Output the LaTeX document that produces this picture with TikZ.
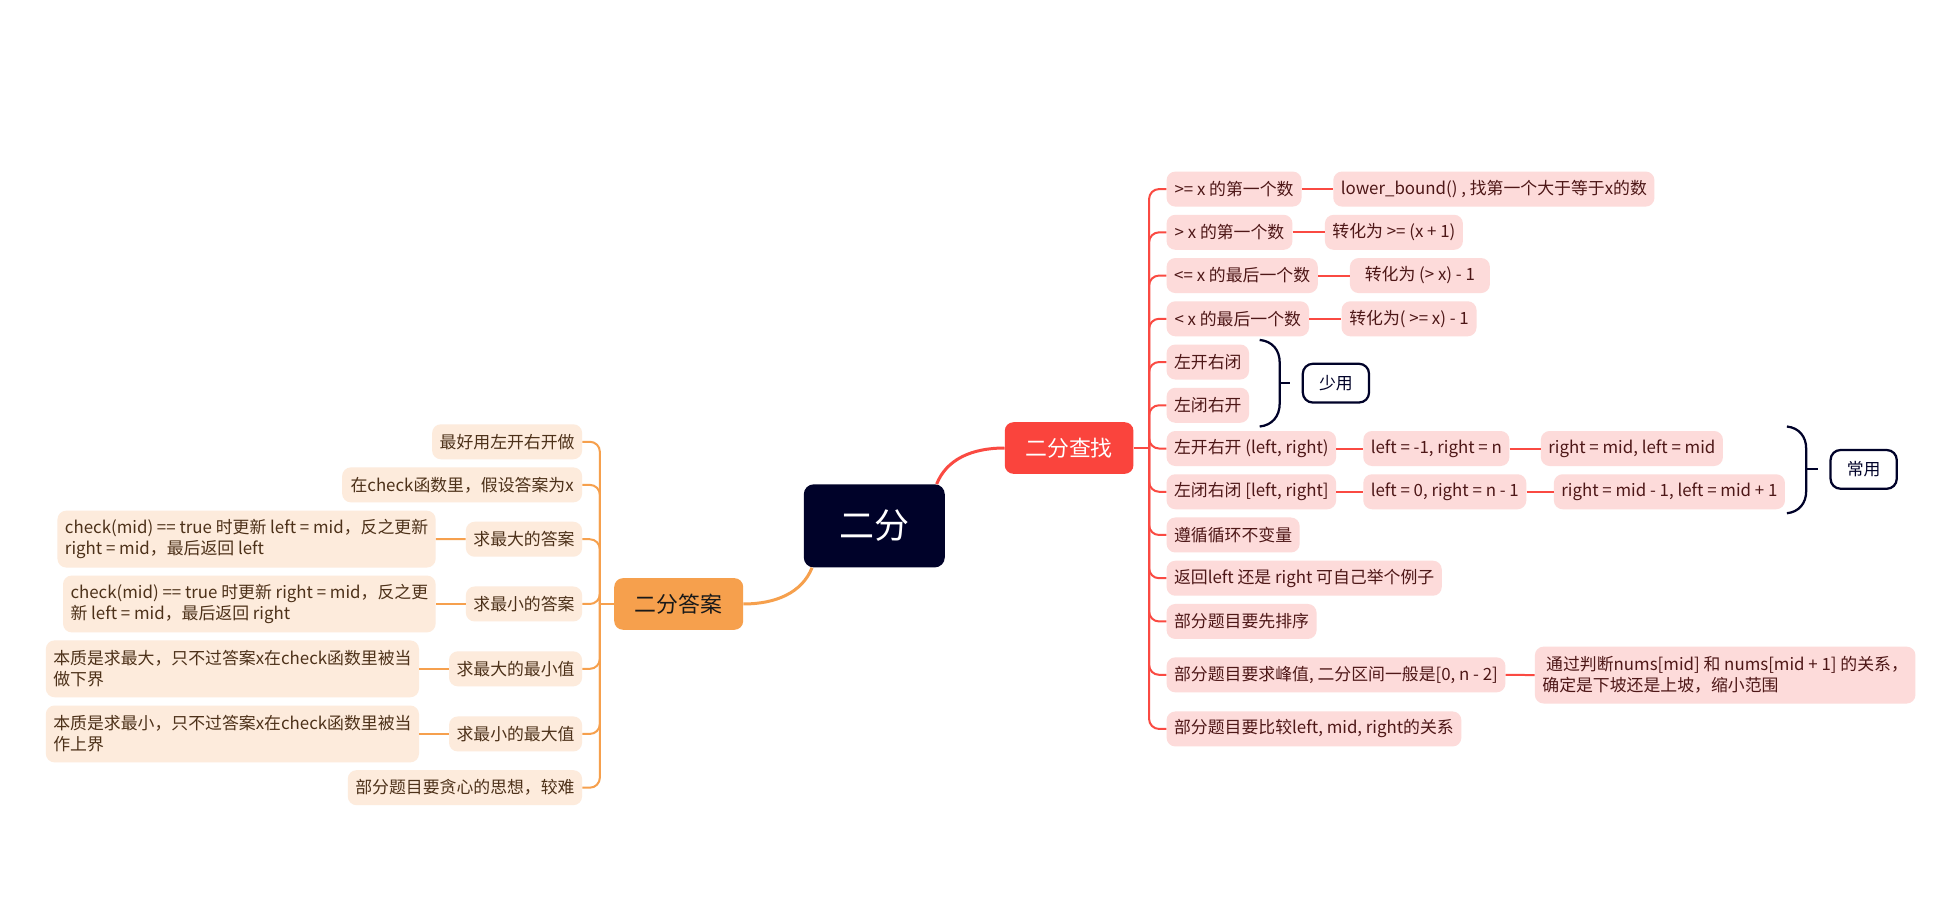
\documentclass[tikz,border=0pt]{standalone}
\usepackage{fontspec}
\setmainfont{Noto Sans CJK SC}
\usetikzlibrary{calc}
\definecolor{navy}{HTML}{000229}
\definecolor{cRedMain}{HTML}{FA443D}
\definecolor{cRedLine}{HTML}{FA4A42}
\definecolor{cRedFill}{HTML}{FDDBDA}
\definecolor{cRedText}{HTML}{4E1717}
\definecolor{cOrMain}{HTML}{F6A04D}
\definecolor{cOrLine}{HTML}{F6A04D}
\definecolor{cOrFill}{HTML}{FDEBDC}
\definecolor{cOrText}{HTML}{4D3119}
\tikzset{
  basebox/.style={rounded corners=7pt, inner xsep=6pt, inner ysep=2pt, minimum height=28pt,
    font=\fontsize{13.5}{16.8}\selectfont},
  rnode/.style={basebox, fill=cRedFill, text=cRedText, anchor=west},
  onode/.style={basebox, fill=cOrFill, text=cOrText, anchor=east},
  twoline/.style={minimum height=45.5pt, align=left},
  rl/.style={draw=cRedLine, line width=1.6pt},
  ol/.style={draw=cOrLine, line width=1.6pt},
  mainred/.style={draw=cRedLine, line width=2.4pt},
  mainor/.style={draw=cOrLine, line width=2.4pt},
  notebox/.style={basebox, fill=white, draw=navy, line width=1.8pt, text=navy, rounded corners=8pt,
    minimum width=53pt, minimum height=31pt},
  bracepath/.style={draw=navy, line width=1.8pt},
}
\begin{document}
\begin{tikzpicture}[x=1pt,y=-1pt]
\useasboundingbox (0,0) rectangle (1567.6,727.4);
\fill[white] (0,0) rectangle (1567.6,727.4);

% root and main branches
\node[fill=navy, text=white, rounded corners=8pt, minimum width=112.8pt, minimum height=66.5pt,
  font=\fontsize{28}{34}\selectfont] (root) at (699.6,420.8) {二分};
\node[fill=cRedMain, text=white, rounded corners=7pt, minimum width=103pt, minimum height=41.3pt,
  font=\fontsize{17.5}{21}\selectfont] (cha) at (855.5,358.5) {二分查找};
\node[fill=cOrMain, text=black!90, rounded corners=7pt, minimum width=103.2pt, minimum height=41.3pt,
  font=\fontsize{17.5}{21}\selectfont] (ans) at (543.1,483.3) {二分答案};

\draw[mainred] ($(root.north east)+(-6.7,0)$) .. controls +(8,-20) and +(-26,0) .. (cha.west);
\draw[mainor] ($(root.south west)+(6.8,0)$) .. controls +(-8,20) and +(26,0) .. (ans.east);

% red branch children
\node[rnode, minimum width=108pt] (r1) at (933.3,151.3) {>= x 的第一个数};
\node[rnode, minimum width=100.7pt] (r2) at (933.3,185.9) {> x 的第一个数};
\node[rnode, minimum width=121pt] (r3) at (933.3,220.5) {<= x 的最后一个数};
\node[rnode, minimum width=114pt] (r4) at (933.3,255.1) {< x 的最后一个数};
\node[rnode, minimum width=64pt] (r5) at (933.3,289.7) {左开右闭};
\node[rnode, minimum width=64pt] (r6) at (933.3,324.3) {左闭右开};
\node[rnode, minimum width=132pt] (r7) at (933.3,358.9) {左开右开 (left, right)};
\node[rnode, minimum width=132pt] (r8) at (933.3,393.5) {左闭右闭 [left, right]};
\node[rnode] (r9) at (933.3,428.1) {遵循循环不变量};
\node[rnode, minimum width=218pt] (r10) at (933.3,462.7) {返回left 还是 right 可自己举个例子};
\node[rnode, minimum width=118pt] (r11) at (933.3,497.3) {部分题目要先排序};
\node[rnode, minimum width=268.7pt] (r12) at (933.3,540) {部分题目要求峰值, 二分区间一般是[0, n - 2]};
\node[rnode, minimum width=228pt] (r13) at (933.3,583.3) {部分题目要比较left, mid, right的关系};

% red grandchildren
\node[rnode, minimum width=247pt] (r1a) at (1066.7,151.3) {lower\_bound() , 找第一个大于等于x的数};
\node[rnode, minimum width=110pt] (r2a) at (1060,185.9) {转化为 >= (x + 1)};
\node[rnode, minimum width=112pt] (r3a) at (1080,220.5) {转化为 (> x) - 1};
\node[rnode, minimum width=108pt] (r4a) at (1073.3,255.1) {转化为( >= x) - 1};
\node[rnode, minimum width=116.5pt] (r7a) at (1090.7,358.9) {left = -1, right = n};
\node[rnode, minimum width=138.4pt] (r7b) at (1232.8,358.9) {right = mid, left = mid};
\node[rnode, minimum width=127.2pt] (r8a) at (1090.7,393.5) {left = 0, right = n - 1};
\node[rnode, minimum width=177pt] (r8b) at (1243.2,393.5) {right = mid - 1, left = mid + 1};
\node[rnode, twoline, minimum width=290pt] (r12a) at (1228,540.2)
  {~通过判断nums[mid] 和 nums[mid + 1] 的关系，\\确定是下坡还是上坡，缩小范围};

% red trunk
\coordinate (jr) at (919.5,358.5);
\draw[rl] (cha.east) -- (jr);
\foreach \n in {r1,r2,r3,r4,r5,r6,r7,r8,r9,r10,r11,r12,r13}
  \draw[rl, rounded corners=8pt] (jr) |- (\n.west);
\draw[rl] (r1.east) -- (r1a.west);
\draw[rl] (r2.east) -- (r2a.west);
\draw[rl] (r3.east) -- (r3a.west);
\draw[rl] (r4.east) -- (r4a.west);
\draw[rl] (r7.east) -- (r7a.west);
\draw[rl] (r7a.east) -- (r7b.west);
\draw[rl] (r8.east) -- (r8a.west);
\draw[rl] (r8a.east) -- (r8b.west);
\draw[rl] (r12.east) -- (r12a.west);

% summary braces
\node[notebox] (shao) at (1069,306.6) {少用};
\node[notebox] (chang) at (1491.3,375.6) {常用};
\coordinate (t1) at (1032.5,306.7);
\coordinate (t2) at (1454.7,375.4);
\draw[bracepath] (1008,272) .. controls (1018,273) and (1024,280) .. (1024,290)
  -- (1024,323) .. controls (1024,333) and (1018,340.3) .. (1008,341.3);
\draw[bracepath] (1024,306.7) -- (t1);
\draw[bracepath] (1429.9,341.3) .. controls (1439.5,342.3) and (1445.3,349.3) .. (1445.3,359)
  -- (1445.3,393) .. controls (1445.3,402.7) and (1439.5,409.7) .. (1429.9,410.7);
\draw[bracepath] (1445.3,375.4) -- (t2);

% orange branch children
\node[onode, minimum width=119pt] (o1) at (466,353.5) {最好用左开右开做};
\node[onode, minimum width=192pt] (o2) at (466,388) {在check函数里，假设答案为x};
\node[onode, minimum width=93pt] (o3) at (466,431.5) {求最大的答案};
\node[onode, minimum width=93pt] (o4) at (466,483.3) {求最小的答案};
\node[onode, minimum width=104.7pt] (o5) at (466,535.2) {求最大的最小值};
\node[onode, minimum width=104.7pt] (o6) at (466,587.3) {求最小的最大值};
\node[onode, minimum width=186pt] (o7) at (466,630.3) {部分题目要贪心的思想，较难};

\node[onode, twoline, minimum width=298.4pt] (o3a) at (348.8,431.4)
  {check(mid) == true 时更新 left = mid，反之更新\\right = mid，最后返回 left};
\node[onode, twoline, minimum width=287.5pt] (o4a) at (348.8,483.3)
  {check(mid) == true 时更新 right = mid，反之更\\新 left = mid，最后返回 right};
\node[onode, twoline, minimum width=296pt] (o5a) at (335.5,535.2)
  {本质是求最大，只不过答案x在check函数里被当\\做下界};
\node[onode, twoline, minimum width=296pt] (o6a) at (335.5,587.3)
  {本质是求最小，只不过答案x在check函数里被当\\作上界};

% orange trunk
\coordinate (jo) at (480,483.3);
\draw[ol] (ans.west) -- (jo);
\foreach \n in {o1,o2,o3,o4,o5,o6,o7}
  \draw[ol, rounded corners=8pt] (jo) |- (\n.east);
\draw[ol] (o3.west) -- (o3a.east);
\draw[ol] (o4.west) -- (o4a.east);
\draw[ol] (o5.west) -- (o5a.east);
\draw[ol] (o6.west) -- (o6a.east);
\end{tikzpicture}
\end{document}
